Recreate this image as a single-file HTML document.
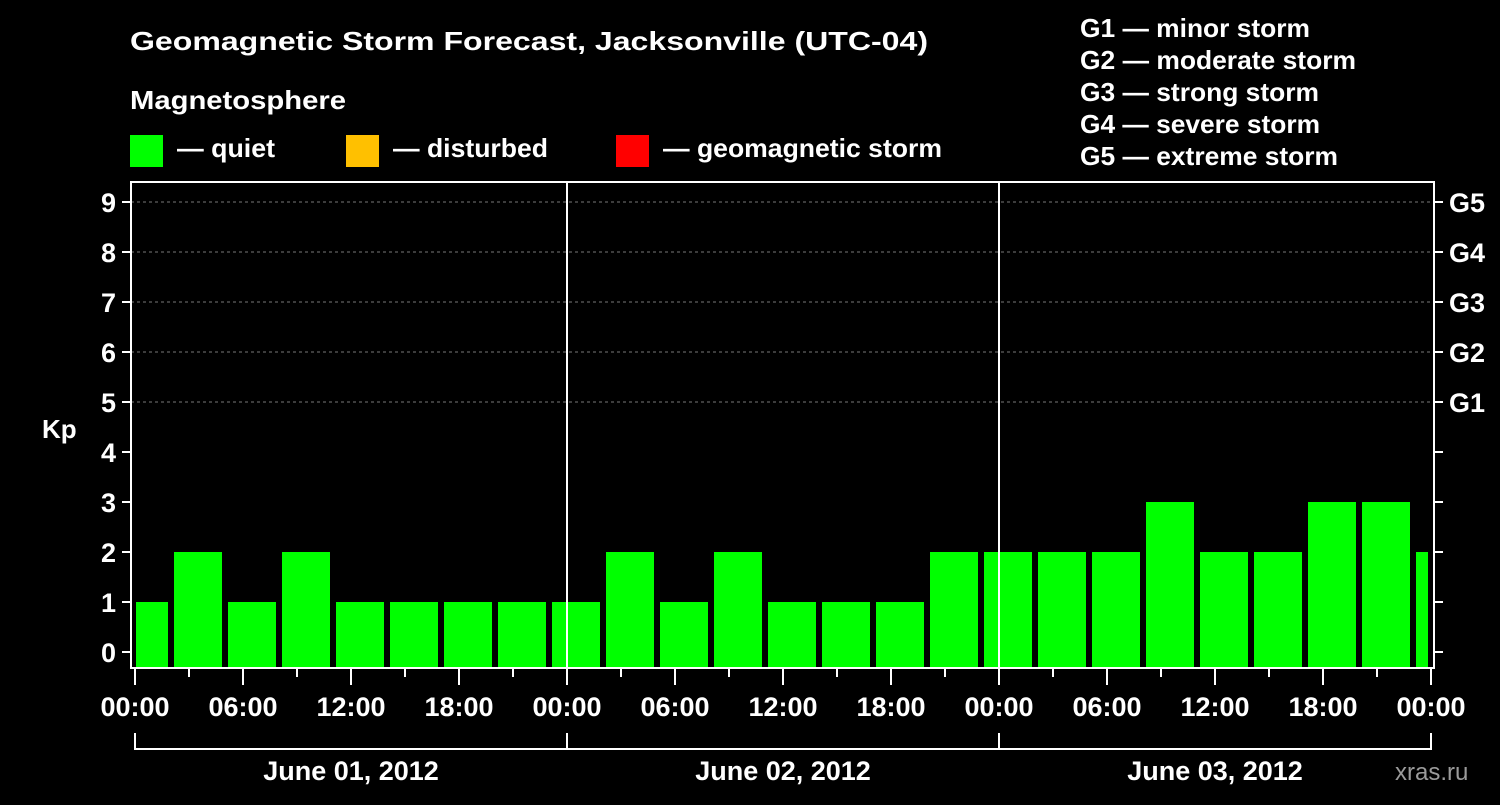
<!DOCTYPE html>
<html><head><meta charset="utf-8"><style>
body{margin:0;background:#000;}
svg text{font-family:"Liberation Sans",Arial,sans-serif;font-weight:bold;fill:#fff;}
</style></head><body>
<svg id="c" width="1500" height="800" xmlns="http://www.w3.org/2000/svg">
<rect width="1500" height="800" fill="#000"/>
<text x="130" y="50" font-size="26" textLength="798" lengthAdjust="spacingAndGlyphs">Geomagnetic Storm Forecast, Jacksonville (UTC-04)</text>
<text x="130" y="109" font-size="26" textLength="216" lengthAdjust="spacingAndGlyphs">Magnetosphere</text>
<rect x="130" y="135" width="33" height="32" fill="#00ff00"/>
<text x="177" y="157" font-size="26" textLength="98" lengthAdjust="spacingAndGlyphs">— quiet</text>
<rect x="346" y="135" width="33" height="32" fill="#ffc000"/>
<text x="393" y="157" font-size="26" textLength="155" lengthAdjust="spacingAndGlyphs">— disturbed</text>
<rect x="616" y="135" width="33" height="32" fill="#ff0000"/>
<text x="663" y="157" font-size="26" textLength="279" lengthAdjust="spacingAndGlyphs">— geomagnetic storm</text>
<g font-size="26">
<text x="1080" y="37" textLength="230" lengthAdjust="spacingAndGlyphs">G1 — minor storm</text>
<text x="1080" y="69" textLength="276" lengthAdjust="spacingAndGlyphs">G2 — moderate storm</text>
<text x="1080" y="101" textLength="239" lengthAdjust="spacingAndGlyphs">G3 — strong storm</text>
<text x="1080" y="133" textLength="240" lengthAdjust="spacingAndGlyphs">G4 — severe storm</text>
<text x="1080" y="165" textLength="258" lengthAdjust="spacingAndGlyphs">G5 — extreme storm</text>
</g>
<text x="42" y="438" font-size="26">Kp</text>
<text x="1395" y="780" font-size="24" style="fill:#9a9a9a;font-weight:normal">xras.ru</text>
<g id="plot"></g>
</svg>
<script>
const kpValues=[1,2,1,2,1,1,1,1, 1,2,1,2,1,1,1,2, 2,2,2,3,2,2,3,3, 2];
const yTicks=[0,1,2,3,4,5,6,7,8,9];
const gLabels=["G1","G2","G3","G4","G5"];
const xTickLabels=["00:00","06:00","12:00","18:00","00:00","06:00","12:00","18:00","00:00","06:00","12:00","18:00","00:00"];
const dayLabels=["June 01, 2012","June 02, 2012","June 03, 2012"];
const NS="http://www.w3.org/2000/svg";
const x0=135,pxh=18,pLeft=131,pRight=1434,pTop=182,pBottom=668;
const X=h=>x0+h*pxh;
const Y=v=>652-v*50;
const g=document.getElementById('plot');
function mk(t,a,p){const e=document.createElementNS(NS,t);for(const k in a)e.setAttribute(k,a[k]);(p||g).appendChild(e);return e;}
for(let v=5;v<=9;v++){const l=mk('line',{x1:pLeft,x2:pRight,y1:Y(v),y2:Y(v),stroke:'#777','stroke-dasharray':'3,3','stroke-width':1});

}
const clip=mk('clipPath',{id:'cp'});mk('rect',{x:136,y:pTop,width:1428-136,height:pBottom-pTop},clip);
kpValues.forEach((v,i)=>{const c=X(i*3+0.5);
const col=v>=5?'#ff0000':(v>=4?'#ffc000':'#00ff00');
const r=mk('rect',{x:c-24,y:Y(v),width:48,height:667-Y(v),fill:col,'clip-path':'url(#cp)'});

});
for(let d=1;d<3;d++){const l=mk('line',{x1:X(d*24),x2:X(d*24),y1:pTop,y2:pBottom,stroke:'#fff','stroke-width':2});

}
const f=mk('rect',{x:pLeft,y:pTop,width:pRight-pLeft,height:pBottom-pTop,fill:'none',stroke:'#fff','stroke-width':2});


yTicks.forEach(v=>{mk('line',{x1:122,x2:pLeft,y1:Y(v),y2:Y(v),stroke:'#fff','stroke-width':2});
mk('line',{x1:pRight,x2:1443,y1:Y(v),y2:Y(v),stroke:'#fff','stroke-width':2});
const t=mk('text',{x:116,y:Y(v)+10,'font-size':27,'text-anchor':'end'});t.textContent=v;

});
gLabels.forEach((s,i)=>{const t=mk('text',{x:1449,y:Y(5+i)+10,'font-size':27});t.textContent=s;

});
for(let h=0;h<=72;h+=3){const long=h%6===0;mk('line',{x1:X(h),x2:X(h),y1:pBottom,y2:long?685:677,stroke:'#fff','stroke-width':2});}
xTickLabels.forEach((s,i)=>{const t=mk('text',{x:X(i*6),y:716,'font-size':27,'text-anchor':'middle'});t.textContent=s;

});
dayLabels.forEach((s,d)=>{const a=X(d*24),b=X(d*24+24);
mk('path',{d:`M${a},733V749H${b}V733`,fill:'none',stroke:'#fff','stroke-width':2});
const t=mk('text',{x:(a+b)/2,y:780,'font-size':27,'text-anchor':'middle'});t.textContent=s;

});
</script>
</body></html>
